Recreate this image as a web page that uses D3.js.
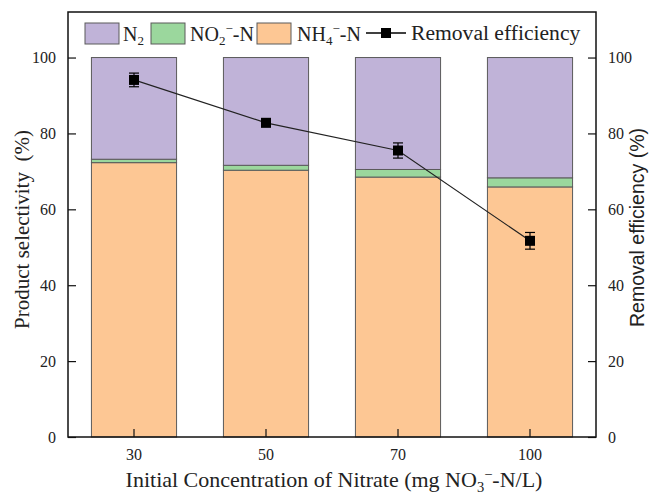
<!DOCTYPE html>
<html>
<head>
<meta charset="utf-8">
<script src="https://cdn.jsdelivr.net/npm/d3@7"></script>
<style>
  html, body { margin: 0; padding: 0; background: #fff; }
  svg { display: block; }
</style>
</head>
<body>
<svg id="chart" width="650" height="494"></svg>
<script>
// ---- Data ----
const categories = ["30", "50", "70", "100"];
const nh4Values = [72.3, 70.3, 68.5, 65.9];
const no2Values = [0.9, 1.3, 2.0, 2.4];
const n2Values = [26.8, 28.4, 29.5, 31.7];
const removalValues = [94.1, 82.8, 75.5, 51.7];
const removalErrors = [1.8, 1.0, 2.0, 2.2];
const yTicks = [0, 20, 40, 60, 80, 100];

(function () {
// ---- Layout ----
const svg = d3.select("#chart");
const mLeft = 68, mRight = 596, mTop = 12, mBottom = 437;
const serif = "'Liberation Serif', 'Times New Roman', serif";
const sans = "'Liberation Sans', Arial, sans-serif";
const colN2 = "#c0b3d8", colNO2 = "#9bd79d", colNH4 = "#fdc794";

const x = d3.scaleBand().domain(categories).range([mLeft, mRight]).paddingInner(0.355).paddingOuter(0.1775);
const y = d3.scaleLinear().domain([0, 112]).range([mBottom, mTop]);

// stacked data
const rows = categories.map((c, i) => ({cat: c, nh4: nh4Values[i], no2: no2Values[i], n2: n2Values[i]}));
const stack = d3.stack().keys(["nh4", "no2", "n2"])(rows);
const colors = {nh4: colNH4, no2: colNO2, n2: colN2};

const gBars = svg.append("g");
stack.forEach(layer => {
  gBars.selectAll(null).data(layer).enter().append("rect")
    .attr("x", d => x(d.data.cat))
    .attr("width", x.bandwidth())
    .attr("y", d => y(d[1]))
    .attr("height", d => y(d[0]) - y(d[1]))
    .attr("fill", colors[layer.key])
    .attr("stroke", "#5a5a5a")
    .attr("stroke-width", 1);
});

// ---- Removal efficiency line ----
const pts = categories.map((c, i) => ({cat: c, v: removalValues[i], e: removalErrors[i]}));
const cx = d => x(d.cat) + x.bandwidth() / 2;
svg.append("path").datum(pts)
  .attr("d", d3.line().x(cx).y(d => y(d.v)))
  .attr("fill", "none").attr("stroke", "#222").attr("stroke-width", 1.2);
const gErr = svg.append("g").attr("stroke", "#000").attr("stroke-width", 1.2);
pts.forEach(d => {
  gErr.append("line").attr("x1", cx(d)).attr("x2", cx(d)).attr("y1", y(d.v - d.e)).attr("y2", y(d.v + d.e));
  gErr.append("line").attr("x1", cx(d) - 5).attr("x2", cx(d) + 5).attr("y1", y(d.v - d.e)).attr("y2", y(d.v - d.e));
  gErr.append("line").attr("x1", cx(d) - 5).attr("x2", cx(d) + 5).attr("y1", y(d.v + d.e)).attr("y2", y(d.v + d.e));
});
svg.append("g").selectAll("rect").data(pts).enter().append("rect")
  .attr("x", d => cx(d) - 5).attr("y", d => y(d.v) - 5)
  .attr("width", 10).attr("height", 10).attr("fill", "#000");

// ---- Axes ----
const axL = svg.append("g").attr("transform", `translate(${mLeft},0)`)
  .call(d3.axisLeft(y).tickValues(yTicks).tickSize(-8).tickPadding(12).tickFormat(d3.format("d")));
const axR = svg.append("g").attr("transform", `translate(${mRight},0)`)
  .call(d3.axisRight(y).tickValues(yTicks).tickSize(-8).tickPadding(12).tickFormat(d3.format("d")));
const axB = svg.append("g").attr("transform", `translate(0,${mBottom})`)
  .call(d3.axisBottom(x).tickSize(-8).tickPadding(12));
[axL, axR, axB].forEach(a => {
  a.selectAll("text").attr("font-family", serif).attr("font-size", 16).attr("fill", "#222");
  a.selectAll("line").attr("stroke", "#111").attr("stroke-width", 1.2);
  a.select(".domain").remove();
});
// frame
svg.append("rect").attr("x", mLeft).attr("y", mTop).attr("width", mRight - mLeft).attr("height", mBottom - mTop)
  .attr("fill", "none").attr("stroke", "#111").attr("stroke-width", 1.5);

// ---- Axis titles ----
const xt = svg.append("text").attr("x", (mLeft + mRight) / 2 + 2).attr("y", 487)
  .attr("text-anchor", "middle").attr("font-family", serif).attr("font-size", 22).attr("fill", "#222");
xt.append("tspan").text("Initial Concentration of Nitrate (mg NO");
xt.append("tspan").text("3").attr("font-size", 14.5).attr("dy", 5);
xt.append("tspan").text("\u2212").attr("font-size", 14.5).attr("dy", -13);
xt.append("tspan").text("-N/L)").attr("dy", 8);

svg.append("text").attr("transform", `translate(29,${(mTop + mBottom) / 2 + 5}) rotate(-90)`)
  .attr("text-anchor", "middle").attr("font-family", serif).attr("font-size", 21).attr("fill", "#222")
  .attr("xml:space", "preserve")
  .text("Product selectivity  (%)");
svg.append("text").attr("transform", `translate(644,${(mTop + mBottom) / 2 + 3}) rotate(-90)`)
  .attr("text-anchor", "middle").attr("font-family", sans).attr("font-size", 19.5).attr("fill", "#222")
  .text("Removal efficiency (%)");

// ---- Legend ----
const lg = svg.append("g").attr("font-family", serif).attr("font-size", 20).attr("fill", "#222");
const legendItems = [
  {key: "n2", sx: 85},
  {key: "no2", sx: 151},
  {key: "nh4", sx: 257}
];
legendItems.forEach(it => {
  lg.append("rect").attr("x", it.sx).attr("y", 23).attr("width", 34).attr("height", 21)
    .attr("fill", colors[it.key]).attr("stroke", "#5a5a5a").attr("stroke-width", 1);
});
const t1 = lg.append("text").attr("x", 123).attr("y", 41);
t1.append("tspan").text("N");
t1.append("tspan").text("2").attr("font-size", 13).attr("dy", 4);
const t2 = lg.append("text").attr("x", 190).attr("y", 41);
t2.append("tspan").text("NO");
t2.append("tspan").text("2").attr("font-size", 13).attr("dy", 4);
t2.append("tspan").text("\u2212").attr("font-size", 13).attr("dy", -12);
t2.append("tspan").text("-N").attr("dy", 8);
const t3 = lg.append("text").attr("x", 297).attr("y", 41);
t3.append("tspan").text("NH");
t3.append("tspan").text("4").attr("font-size", 13).attr("dy", 4);
t3.append("tspan").text("\u2212").attr("font-size", 13).attr("dy", -12);
t3.append("tspan").text("-N").attr("dy", 8);
lg.append("line").attr("x1", 366).attr("x2", 406).attr("y1", 33).attr("y2", 33).attr("stroke", "#000").attr("stroke-width", 1.3);
lg.append("rect").attr("x", 381).attr("y", 28).attr("width", 10).attr("height", 10).attr("fill", "#000");
lg.append("text").attr("x", 411).attr("y", 40).attr("font-size", 21.6).text("Removal efficiency");
})();
</script>
</body>
</html>
